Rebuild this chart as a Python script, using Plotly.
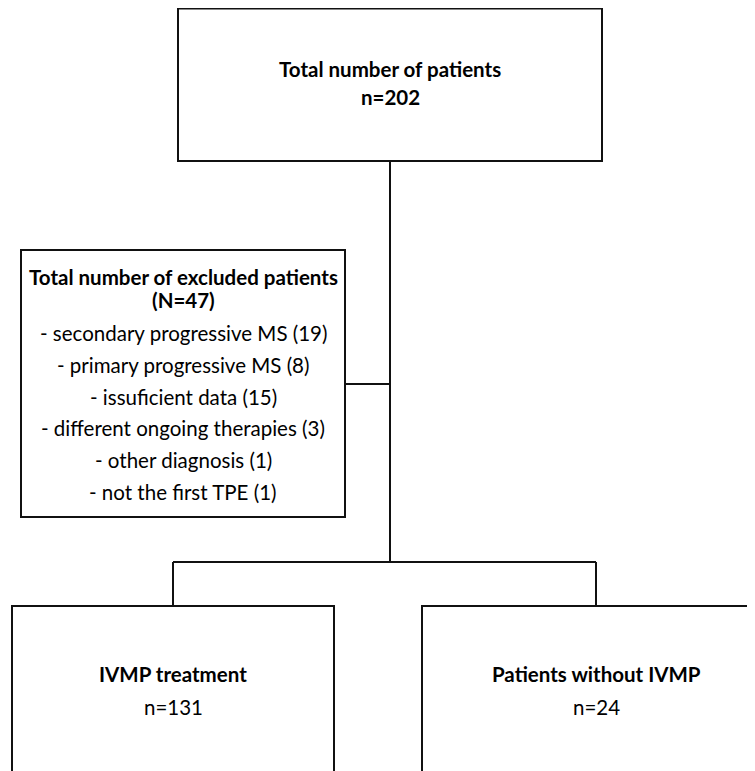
import plotly.graph_objects as go

# ---- data ----
total_label = "Total number of patients"
total_n = 202
excluded_label = "Total number of excluded patients"
excluded_n = 47
excluded_reasons = ["secondary progressive MS", "primary progressive MS", "issuficient data",
                    "different ongoing therapies", "other diagnosis", "not the first TPE"]
excluded_counts = [19, 8, 15, 3, 1, 1]
group_labels = ["IVMP treatment", "Patients without IVMP"]
group_counts = [131, 24]

W, H = 755, 771
OFF = 8  # default page body margin
FONT = "Lato"
SIZE = 20.5
LINE = dict(color="#111111", width=2)

fig = go.Figure()
fig.add_trace(go.Scatter(x=[OFF, W], y=[OFF, H], mode="markers",
                         marker=dict(opacity=0), hoverinfo="skip", showlegend=False))

shapes = []
def rect(x0, y0, x1, y1):
    shapes.append(dict(type="rect", x0=x0, y0=y0, x1=x1, y1=y1, line=LINE,
                       fillcolor="rgba(0,0,0,0)", layer="above"))
def seg(x0, y0, x1, y1):
    shapes.append(dict(type="line", x0=x0, y0=y0, x1=x1, y1=y1, line=LINE, layer="above"))

# boxes
rect(178, 8.5, 602, 161)
rect(21, 250, 345, 517)
rect(12, 606, 334, 800)
rect(422, 606, 800, 800)
# connectors
seg(390, 161, 390, 562)
seg(345, 384, 390, 384)
seg(173, 562, 596, 562)
seg(173, 562, 173, 606)
seg(596, 562, 596, 606)

ann = []
def txt(x, y, s, bold=False, size=SIZE):
    ann.append(dict(x=x, y=y, xref="x", yref="y", text=(f"<b>{s}</b>" if bold else s),
                    showarrow=False, xanchor="center", yanchor="middle",
                    font=dict(family=FONT, size=size, color="#000000")))

txt(390, 69, total_label, bold=True)
txt(390, 97, f"n={total_n}", bold=True)

txt(183, 277, excluded_label, bold=True)
txt(183, 300, f"(N={excluded_n})", bold=True)
for i, (r, c) in enumerate(zip(excluded_reasons, excluded_counts)):
    txt(183, 333 + i * 31.8, f"- {r} ({c})")

txt(173, 674, group_labels[0], bold=True)
txt(173, 707, f"n={group_counts[0]}")
txt(596, 674, group_labels[1], bold=True)
txt(596, 707, f"n={group_counts[1]}")

fig.update_layout(
    width=W - OFF, height=H - OFF, margin=dict(l=0, r=0, t=0, b=0),
    paper_bgcolor="white", plot_bgcolor="white",
    xaxis=dict(range=[OFF, W], visible=False, fixedrange=True),
    yaxis=dict(range=[H, OFF], visible=False, fixedrange=True),
    shapes=shapes, annotations=ann, showlegend=False,
)
fig.write_html("out.html")
